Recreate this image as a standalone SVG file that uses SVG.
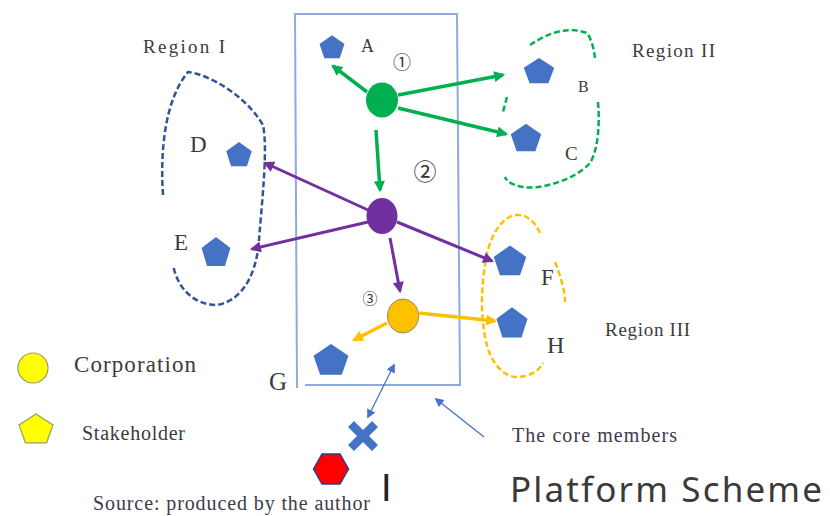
<svg xmlns="http://www.w3.org/2000/svg" xmlns:xlink="http://www.w3.org/1999/xlink" width="830" height="516" viewBox="0 0 830 516">
<style>
.lbl{font-family:"Liberation Serif","DejaVu Serif",serif;fill:#3b3b3b}
.sm{font-family:"Liberation Serif","DejaVu Serif",serif;fill:#3b3b4b;font-size:20px}
.num{font-family:"Noto Sans CJK JP",sans-serif;fill:#333}
.pent{fill:#4472C4}
.g{stroke:#00B050;stroke-width:3.5;fill:none;marker-end:url(#mg)}
.p{stroke:#7030A0;stroke-width:3;fill:none;marker-end:url(#mp)}
.o{stroke:#FFC000;stroke-width:3.5;fill:none;marker-end:url(#mo)}
.b{stroke:#4472C4;stroke-width:1.3;fill:none}
.dash{fill:none;stroke-width:2.5;stroke-dasharray:6 3}
</style>
<defs>
<path id="pent" d="M0,-16 L15.2,-4.94 L9.4,12.9 L-9.4,12.9 L-15.2,-4.94 Z"/>
<marker id="mg" viewBox="0 0 10 10" refX="8" refY="5" markerWidth="12" markerHeight="11" markerUnits="userSpaceOnUse" orient="auto"><path d="M0,0 L10,5 L0,10 Z" fill="#00B050"/></marker>
<marker id="mp" viewBox="0 0 10 10" refX="8" refY="5" markerWidth="12" markerHeight="11" markerUnits="userSpaceOnUse" orient="auto"><path d="M0,0 L10,5 L0,10 Z" fill="#7030A0"/></marker>
<marker id="mo" viewBox="0 0 10 10" refX="8" refY="5" markerWidth="12" markerHeight="11" markerUnits="userSpaceOnUse" orient="auto"><path d="M0,0 L10,5 L0,10 Z" fill="#FFC000"/></marker>
<marker id="mb" viewBox="0 0 10 10" refX="8" refY="5" markerWidth="10" markerHeight="9" markerUnits="userSpaceOnUse" orient="auto-start-reverse"><path d="M0,0 L10,5 L0,10 Z" fill="#4472C4"/></marker>
</defs>

<g id="core-members">
<path d="M297,388 L295,14 L457,14 L460,385 L305,385" fill="none" stroke="#8FAADC" stroke-width="2"/>
</g>

<g id="regions">
<path class="dash" stroke="#2F5597" d="M163,195 C160,150 165,100 188,72 C210,75 245,95 263,125 C268,150 262,200 259,240 C257,270 245,300 217,305 C195,305 178,290 173,265"/>
<path class="dash" stroke="#00B050" d="M530,45 C545,35 565,25 587,33 C592,40 594,50 595,58"/>
<path class="dash" stroke="#00B050" d="M507,97 L503,112"/>
<path class="dash" stroke="#00B050" d="M598,102 C600,125 598,150 590,163 C575,180 540,190 523,187 C513,185 507,182 505,177"/>
<path class="dash" stroke="#FFC000" d="M540,233 C535,222 527,214 516,215 C500,217 488,240 485,265 C481,290 481,315 485,337 C490,365 505,377 517,377 C530,377 540,370 543,363"/>
<path class="dash" stroke="#FFC000" d="M555,262 C560,275 565,290 565,302"/>
</g>

<g id="connectors">
<line class="g" x1="367" y1="92" x2="333" y2="66"/>
<line class="g" x1="398" y1="95" x2="503" y2="75"/>
<line class="g" x1="398" y1="108" x2="506" y2="134"/>
<line class="g" x1="376" y1="130" x2="380" y2="190"/>
<line class="p" x1="368" y1="210" x2="265" y2="163"/>
<line class="p" x1="368" y1="222" x2="252" y2="249"/>
<line class="p" x1="397" y1="222" x2="492" y2="261"/>
<line class="p" x1="390" y1="238" x2="400" y2="291"/>
<line class="o" x1="387" y1="323" x2="354" y2="340"/>
<line class="o" x1="419" y1="313" x2="495" y2="321"/>
<line class="b" x1="368" y1="417" x2="394" y2="365" marker-start="url(#mb)" marker-end="url(#mb)"/>
<line class="b" x1="484" y1="437" x2="436" y2="399" marker-end="url(#mb)"/>
</g>

<g id="node-1"><ellipse cx="382" cy="100" rx="16" ry="17.5" fill="#00B050"/></g>
<g id="node-2"><ellipse cx="382" cy="216" rx="15.5" ry="18" fill="#7030A0"/></g>
<g id="node-3"><ellipse cx="403" cy="316" rx="15.5" ry="17" fill="#FFC000" stroke="#8c8c6a" stroke-width="1"/></g>

<g id="node-A"><use xlink:href="#pent" class="pent" transform="translate(332,48) scale(0.82,0.8)"/><text class="lbl" x="361" y="52" font-size="18">A</text></g>
<g id="node-B"><use xlink:href="#pent" class="pent" transform="translate(539,72) scale(1,0.88)"/><text class="lbl" x="578" y="92" font-size="16">B</text></g>
<g id="node-C"><use xlink:href="#pent" class="pent" transform="translate(526,139) scale(1,0.95)"/><text class="lbl" x="565" y="160" font-size="19">C</text></g>
<g id="node-D"><use xlink:href="#pent" class="pent" transform="translate(239,155.5) scale(0.84)"/><text class="lbl" x="190" y="152" font-size="23">D</text></g>
<g id="node-E"><use xlink:href="#pent" class="pent" transform="translate(216,253) scale(0.95,1)"/><text class="lbl" x="174" y="250" font-size="23">E</text></g>
<g id="node-F"><use xlink:href="#pent" class="pent" transform="translate(510,262) scale(1.07,1.03)"/><text class="lbl" x="541" y="285" font-size="23">F</text></g>
<g id="node-G"><use xlink:href="#pent" class="pent" transform="translate(331,361) scale(1.15,1.06)"/><text class="lbl" x="269" y="390" font-size="25">G</text></g>
<g id="node-H"><use xlink:href="#pent" class="pent" transform="translate(512,324) scale(1.02,1.04)"/><text class="lbl" x="547" y="353" font-size="24">H</text></g>

<g id="node-X"><path d="M354,421 L363,430 L372,421 L378,427 L369,436 L378,445 L372,451 L363,442 L354,451 L348,445 L357,436 L348,427 Z" fill="#4472C4"/></g>
<g id="node-I"><path d="M313.5,469 L322,454 L340,454 L348.5,469 L340,484 L322,484 Z" fill="#FF0000" stroke="#2F3E8F" stroke-width="1.5"/><text x="381" y="501" font-family="Liberation Sans, sans-serif" font-size="38" fill="#222">I</text></g>

<g id="labels">
<text class="num" x="402" y="69" font-size="18" text-anchor="middle">①</text>
<text class="num" x="425" y="180" font-size="23" text-anchor="middle">②</text>
<text class="num" x="370" y="304" font-size="15" text-anchor="middle">③</text>
<text class="lbl" x="143" y="53" font-size="19" textLength="82">Region  I</text>
<text class="lbl" x="632" y="57" font-size="19" textLength="83">Region  II</text>
<text class="lbl" x="605" y="336" font-size="19" textLength="85">Region  III</text>
<text class="sm" x="512" y="442" textLength="165">The core members</text>
<text x="510" y="502" font-family="Noto Sans, sans-serif" font-size="35" fill="#3a3a3a" textLength="312">Platform Scheme</text>
<text class="sm" x="93" y="510" textLength="277">Source: produced by the author</text>
</g>

<g id="legend">
<circle cx="33" cy="368" r="15" fill="#FFFF00" stroke="#9a9a6a" stroke-width="1.2"/>
<text class="lbl" x="74" y="372" font-size="23" textLength="122">Corporation</text>
<use xlink:href="#pent" transform="translate(36,430) scale(1.12,1.0)" fill="#FFFF00" stroke="#9a9a6a" stroke-width="1.1"/>
<text class="lbl" x="82" y="440" font-size="20" textLength="103">Stakeholder</text>
</g>
</svg>
